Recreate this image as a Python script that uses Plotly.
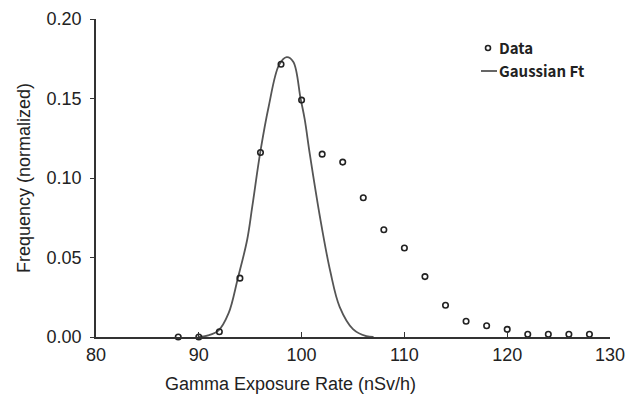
import plotly.graph_objects as go

# Measured data (normalized frequency)
data_x = [88, 90, 92, 94, 96, 98, 100, 102, 104, 106, 108, 110, 112, 114, 116, 118, 120, 122, 124, 126, 128]
data_y = [0.000, 0.000, 0.0033, 0.037, 0.116, 0.1715, 0.149, 0.115, 0.110, 0.0876, 0.0675, 0.056,
          0.038, 0.020, 0.0099, 0.0071, 0.0048, 0.0017, 0.0017, 0.0017, 0.0017]

# Gaussian fit curve
fit_x = [89.9, 90.9, 91.9, 92.9, 93.8, 94.7, 95.2, 96.0, 96.8, 97.8, 98.55, 99.2, 99.9,
         100.3, 100.8, 101.8, 102.8, 103.7, 105.0, 106.3, 107.0]
fit_y = [0.0, 0.001, 0.004, 0.015, 0.037, 0.061, 0.082, 0.117, 0.145, 0.171, 0.176, 0.173, 0.150,
         0.137, 0.115, 0.075, 0.041, 0.019, 0.005, 0.0005, 0.0]

x_ticks = [80, 90, 100, 110, 120, 130]
y_ticks = [0.00, 0.05, 0.10, 0.15, 0.20]

FONT = "Liberation Sans, Arial, sans-serif"
INK = "#222222"

fig = go.Figure()
fig.add_trace(go.Scatter(
    x=fit_x, y=fit_y, mode="lines", name="Gaussian Ft",
    line=dict(color="#555555", width=1.8, shape="spline", smoothing=1.0),
    cliponaxis=False, showlegend=False,
))
fig.add_trace(go.Scatter(
    x=data_x, y=data_y, mode="markers", name="Data",
    marker=dict(symbol="circle-open", size=5.5, color=INK, line=dict(width=1.6, color=INK)),
    cliponaxis=False, showlegend=False,
))

# paper coords helpers: plot area spans 96..610 px in x, 19..337 px in y (as seen on screen)
def px(xp):
    return (xp - 96) / 514.0

def py(yp):
    return (337 - yp) / 318.0

# manual legend
fig.add_shape(type="circle", xref="paper", yref="paper",
              x0=px(485.5), x1=px(490.5), y0=py(50.5), y1=py(45.5),
              line=dict(color=INK, width=1.6))
fig.add_shape(type="line", xref="paper", yref="paper",
              x0=px(481), x1=px(497), y0=py(71), y1=py(71),
              line=dict(color="#555555", width=1.8))
LEG_FONT = dict(family="Noto Sans CJK KR, Noto Sans, sans-serif", size=15, color=INK)
fig.add_annotation(xref="paper", yref="paper", x=px(497), y=py(48), text="<b>Data</b>",
                   showarrow=False, xanchor="left", yanchor="middle", font=LEG_FONT)
fig.add_annotation(xref="paper", yref="paper", x=px(497), y=py(71), text="<b>Gaussian Ft</b>",
                   showarrow=False, xanchor="left", yanchor="middle", font=LEG_FONT)

# axis titles
fig.add_annotation(xref="paper", yref="paper", x=px(290), y=py(384),
                   text="Gamma Exposure Rate (nSv/h)", showarrow=False,
                   xanchor="center", yanchor="middle", font=dict(size=18, color=INK))
fig.add_annotation(xref="paper", yref="paper", x=px(24), y=py(178),
                   text="Frequency (normalized)", showarrow=False, textangle=-90,
                   xanchor="center", yanchor="middle", font=dict(size=18, color=INK))

# the page body adds an 8px offset, so margins are shifted to compensate
fig.update_layout(
    width=633, height=405,
    margin=dict(l=88, r=31, t=11, b=76, autoexpand=False),
    paper_bgcolor="white", plot_bgcolor="white",
    font=dict(family=FONT, size=18, color=INK),
    showlegend=False,
)
fig.update_xaxes(
    range=[80, 130], tickvals=x_ticks, ticktext=[str(v) for v in x_ticks],
    ticks="inside", ticklen=5, tickwidth=1.2, tickcolor="#333",
    showline=True, linecolor="#333", linewidth=1.5,
    showgrid=False, zeroline=False, automargin=False,
    ticklabelstandoff=1,
)
fig.update_yaxes(
    range=[0, 0.2], tickvals=y_ticks, ticktext=["%.2f" % v for v in y_ticks],
    ticks="outside", ticklen=4, tickwidth=1.2, tickcolor="#333",
    showline=True, linecolor="#333", linewidth=1.5,
    showgrid=False, zeroline=False, automargin=False,
    ticklabelstandoff=5,
)

fig.write_html("out.html")
